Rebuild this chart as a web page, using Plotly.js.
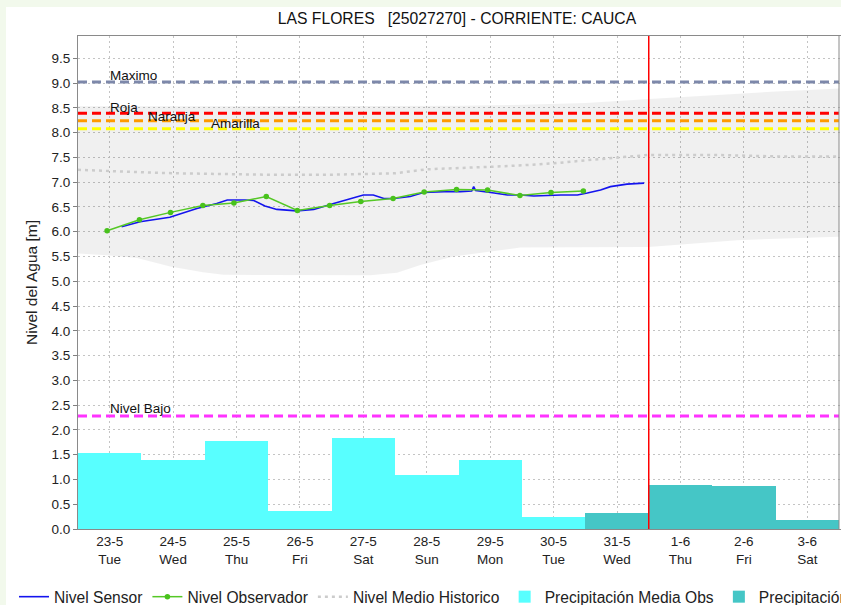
<!DOCTYPE html>
<html><head><meta charset="utf-8">
<script src="https://cdn.plot.ly/plotly-3.0.1.min.js"></script>
<style>
html,body{margin:0;padding:0;background:#f2f9ec;overflow:hidden;width:841px;height:605px;}
#chart{position:absolute;left:6px;top:7px;width:1300px;height:620px;background:#fff;}
</style></head><body><div id="chart"></div>
<script>
// ---- data ----
const dayDates = ['2017-05-23','2017-05-24','2017-05-25','2017-05-26','2017-05-27','2017-05-28','2017-05-29','2017-05-30','2017-05-31','2017-06-01','2017-06-02','2017-06-03'];
const dayLabels = ['23-5','24-5','25-5','26-5','27-5','28-5','29-5','30-5','31-5','1-6','2-6','3-6'];
const weekdays = ['Tue','Wed','Thu','Fri','Sat','Sun','Mon','Tue','Wed','Thu','Fri','Sat'];

const precipObsDays = ['2017-05-23','2017-05-24','2017-05-25','2017-05-26','2017-05-27','2017-05-28','2017-05-29','2017-05-30'];
const precipObs = [1.53,1.39,1.77,0.37,1.83,1.10,1.39,0.25];
const precipFcstDays = ['2017-05-31','2017-06-01','2017-06-02','2017-06-03'];
const precipFcst = [0.33,0.88,0.86,0.18];

const sensorTimes = ['2017-05-23 16:30','2017-05-23 23:30','2017-05-24 10:45','2017-05-24 17:15','2017-05-24 21:00','2017-05-25 04:30','2017-05-25 08:30','2017-05-25 15:15','2017-05-25 18:30','2017-05-25 22:45','2017-05-26 03:15','2017-05-26 10:45','2017-05-26 17:15','2017-05-27 00:45','2017-05-27 05:45','2017-05-27 12:00','2017-05-27 15:45','2017-05-27 19:45','2017-05-27 23:30','2017-05-28 05:45','2017-05-28 10:45','2017-05-28 18:30','2017-05-29 00:45','2017-05-29 05:00','2017-05-29 05:45','2017-05-29 06:30','2017-05-29 13:30','2017-05-29 18:30','2017-05-29 23:30','2017-05-30 04:30','2017-05-30 14:45','2017-05-30 21:00','2017-05-31 00:45','2017-05-31 05:45','2017-05-31 09:30','2017-05-31 15:45','2017-05-31 22:15'];
const sensorLevels = [6.10,6.20,6.29,6.40,6.47,6.57,6.64,6.64,6.63,6.52,6.45,6.42,6.45,6.57,6.65,6.74,6.74,6.67,6.67,6.71,6.79,6.81,6.81,6.82,6.91,6.83,6.78,6.74,6.74,6.72,6.74,6.74,6.78,6.84,6.91,6.96,6.98];

const obsTimes = ['2017-05-23 11:00','2017-05-23 23:15','2017-05-24 11:00','2017-05-24 23:15','2017-05-25 11:00','2017-05-25 23:15','2017-05-26 11:00','2017-05-26 23:15','2017-05-27 11:00','2017-05-27 23:15','2017-05-28 11:00','2017-05-28 23:15','2017-05-29 11:00','2017-05-29 23:15','2017-05-30 11:00','2017-05-30 23:15'];
const obsLevels = [6.02,6.24,6.39,6.53,6.58,6.71,6.43,6.53,6.61,6.67,6.80,6.85,6.84,6.73,6.79,6.82];

const histTimes = ['2017-05-23 00:00','2017-05-23 12:00','2017-05-24 00:00','2017-05-24 12:00','2017-05-25 00:00','2017-05-26 00:00','2017-05-27 00:00','2017-05-27 12:00','2017-05-28 00:00','2017-05-28 12:00','2017-05-29 00:00','2017-05-29 12:00','2017-05-30 00:00','2017-05-30 12:00','2017-05-31 00:00','2017-05-31 12:00','2017-06-01 00:00','2017-06-02 00:00','2017-06-03 00:00','2017-06-04 00:00'];
const histLevels = [7.25,7.22,7.20,7.18,7.17,7.15,7.15,7.16,7.18,7.26,7.28,7.31,7.34,7.38,7.44,7.50,7.55,7.55,7.52,7.52];

const bandUpperTimes = ['2017-05-23 00:00','2017-05-26 00:00','2017-05-29 00:00','2017-05-30 00:00','2017-05-31 00:00','2017-06-01 00:00','2017-06-02 00:00','2017-06-03 00:00','2017-06-04 00:00'];
const bandUpper = [8.53,8.53,8.54,8.56,8.60,8.68,8.76,8.83,8.89];
const bandLowerTimes = ['2017-05-23 00:00','2017-05-23 12:00','2017-05-23 22:20','2017-05-24 10:50','2017-05-24 23:15','2017-05-25 07:00','2017-05-26 00:45','2017-05-27 14:40','2017-05-28 00:45','2017-05-28 09:35','2017-05-28 22:05','2017-05-29 08:25','2017-05-29 23:30','2017-06-01 00:00','2017-06-02 09:35','2017-06-04 00:00'];
const bandLower = [5.56,5.52,5.47,5.30,5.18,5.13,5.12,5.12,5.17,5.33,5.50,5.58,5.68,5.69,5.83,5.90];

const thresholdNames = ['Maximo','Roja','Naranja','Amarilla','Nivel Bajo'];
const thresholdValues = [9.02,8.39,8.24,8.08,2.28];
const thresholdColors = ['#7d88aa','#ff0000','#ff9a00','#ffff00','#ff33ff'];
const nowTime = '2017-06-01 00:00';
const rangeStart = '2017-05-23 00:00';
const rangeEnd = '2017-06-04 00:00';

// ---- build ----
const noon = d => d + ' 12:00';
const DAY = 86400000;
const L = 72, T = 29, B = 98, W = 1300, H = 620;
const visibleW = 761;           // pixels for the 12 visible days
const plotW = 1200;             // wider plot area so the legend stays on one row
const startMs = Date.UTC(2017,4,23);
const endMs = startMs + (plotW/visibleW) * 12 * DAY;

const traces = [
  {type:'scatter', x: bandUpperTimes.concat(bandLowerTimes.slice().reverse()),
   y: bandUpper.concat(bandLower.slice().reverse()), fill:'toself', mode:'lines',
   line:{width:0, color:'rgba(0,0,0,0)'}, fillcolor:'rgba(0,0,0,0.059)', showlegend:false, hoverinfo:'skip'},
  {type:'bar', name:'Precipitación Media Obs', x: precipObsDays.map(noon), y: precipObs, width: DAY,
   marker:{color:'#58ffff', line:{width:0}}, legendrank:4},
  {type:'bar', name:'Precipitación Media Pronosticada', x: precipFcstDays.map(noon), y: precipFcst, width: DAY,
   marker:{color:'#45c6c6', line:{width:0}}, legendrank:5},
  {type:'scatter', mode:'lines', name:'Nivel Medio Historico', x: histTimes, y: histLevels,
   line:{color:'#cccccc', width:2.5, dash:'3px,4px'}, legendrank:3},
  {type:'scatter', mode:'lines', name:'Nivel Sensor', x: sensorTimes, y: sensorLevels,
   line:{color:'#1414ee', width:1.6}, legendrank:1},
  {type:'scatter', mode:'lines+markers', name:'Nivel Observador', x: obsTimes, y: obsLevels,
   line:{color:'#55c826', width:1.5}, marker:{color:'#48c21c', size:5.5}, legendrank:2}
];

const shapes = thresholdValues.map((v,i) => ({type:'line', xref:'x', x0:rangeStart, x1:rangeEnd, yref:'y', y0:v, y1:v,
  line:{color:thresholdColors[i], width:3, dash:'9px,5px'}, layer:'above'}));
shapes.push({type:'line', xref:'x', x0:nowTime, x1:nowTime, yref:'paper', y0:0, y1:1,
  line:{color:'#ff0000', width:1.5}, layer:'above'});
shapes.push({type:'line', xref:'x', x0:rangeEnd, x1:rangeEnd, yref:'paper', y0:0, y1:1,
  line:{color:'#8a8a8a', width:1}, layer:'above'});

const labelPos = [
  {x:'2017-05-23 11:20', y:9.16},
  {x:'2017-05-23 11:20', y:8.51},
  {x:'2017-05-24 01:40', y:8.33},
  {x:'2017-05-25 01:40', y:8.18},
  {x:'2017-05-23 11:20', y:2.43}
];
const annotations = thresholdNames.map((n,i) => ({text:n, x:labelPos[i].x, y:labelPos[i].y, xref:'x', yref:'y',
  xanchor:'left', yanchor:'middle', showarrow:false, font:{size:13.5, color:'#111'}}));

const layout = {
  width:W, height:H,
  margin:{l:L, t:T, r:W-L-plotW, b:B, autoexpand:false},
  paper_bgcolor:'#ffffff', plot_bgcolor:'#ffffff',
  font:{family:'Liberation Sans, Arial, sans-serif', color:'#222'},
  title:{text:'LAS FLORES \u00a0 [25027270] - CORRIENTE: CAUCA', x:451/W, xanchor:'center', y:1-12/H, yanchor:'middle',
    font:{size:15.7, color:'#111'}},
  xaxis:{type:'date', range:[rangeStart, endMs], tickvals: dayDates.map(noon),
    ticktext: dayLabels.map((d,i)=>d+'<br>'+weekdays[i]), tickfont:{size:13.5, color:'#222'},
    showgrid:true, gridcolor:'#c4c4c4', griddash:'2px,3px', gridwidth:1, ticks:'',
    showline:true, mirror:true, linecolor:'#8a8a8a', linewidth:1, zeroline:false, fixedrange:true},
  yaxis:{range:[0,9.95], dtick:0.5, tick0:0, tickformat:'.1f', tickfont:{size:13.5, color:'#222'},
    ticks:'outside', ticklen:4, tickcolor:'#808080',
    showgrid:true, gridcolor:'#c4c4c4', griddash:'2px,3px', gridwidth:1,
    showline:true, mirror:false, linecolor:'#8a8a8a', linewidth:1, zeroline:false,
    title:{text:'Nivel del Agua [m]', font:{size:15.5, color:'#222'}, standoff:10}},
  barmode:'overlay', bargap:0,
  showlegend:true,
  legend:{orientation:'h', x:(8-L)/plotW, xanchor:'left', y:-0.138, yanchor:'middle', font:{size:15.6, color:'#222'},
    itemwidth:30, bgcolor:'rgba(0,0,0,0)', traceorder:'normal'},
  shapes: shapes, annotations: annotations
};

Plotly.newPlot('chart', traces, layout, {displayModeBar:false, staticPlot:true});
</script></body></html>
